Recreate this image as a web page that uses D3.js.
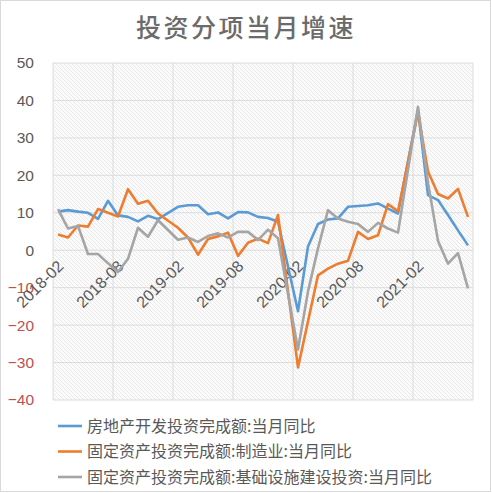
<!DOCTYPE html>
<meta charset="utf-8">
<style>
  body { margin: 0; background: #fff; }
  text { font-family: "Liberation Sans", Arial, "Noto Sans CJK SC", sans-serif; }
</style>
<body>
<script src="https://d3js.org/d3.v7.min.js"></script>
<script>

var months = ["2018-02","2018-03","2018-04","2018-05","2018-06","2018-07","2018-08","2018-09","2018-10","2018-11","2018-12",
              "2019-01","2019-02","2019-03","2019-04","2019-05","2019-06","2019-07","2019-08","2019-09","2019-10","2019-11","2019-12",
              "2020-01","2020-02","2020-03","2020-04","2020-05","2020-06","2020-07","2020-08","2020-09","2020-10","2020-11","2020-12",
              "2021-01","2021-02","2021-03","2021-04","2021-05","2021-06","2021-07"];
var tickMonths = ["2018-02","2018-08","2019-02","2019-08","2020-02","2020-08","2021-02"];

// null = no value that month (jan merged into feb), line just joins across
var realEstate = [10.3, 10.7, 10.3, 10.0, 8.4, 13.2, 9.3, 8.9, 7.7, 9.2, 8.3,
                  null, 11.6, 12.0, 12.0, 9.6, 10.1, 8.5, 10.2, 10.1, 8.9, 8.6, 7.6,
                  null, -16.3, 1.0, 7.0, 8.2, 8.5, 11.6, 11.8, 12.0, 12.5, 11.1, 9.8,
                  null, 37.5, 14.7, 13.4, 9.4, 5.3, 1.3];
var manufacturing = [4.2, 3.4, 6.6, 6.3, 11.0, 10.0, 9.0, 16.3, 12.4, 13.2, 9.8,
                     null, 6.0, 3.4, -1.2, 3.0, 3.7, 4.7, -1.5, 2.0, 3.1, 1.9, 9.4,
                     null, -31.3, -19.0, -6.7, -4.9, -3.6, -2.8, 4.9, 3.0, 4.0, 12.3, 10.4,
                     null, 36.8, 21.0, 15.0, 13.8, 16.4, 8.9];
var infrastructure = [11.0, 5.8, 6.5, -1.0, -1.0, -3.5, -5.8, -2.3, 6.0, 3.6, 8.0,
                      null, 2.8, 3.4, 2.2, 3.8, 4.5, 3.4, 4.9, 4.9, 2.7, 5.5, 3.2,
                      null, -26.5, -11.0, 0.5, 10.7, 8.5, 7.6, 7.0, 4.9, 7.3, 5.8, 4.7,
                      null, 38.3, 18.0, 2.5, -3.6, -0.8, -10.2];
var yTicks = [50, 40, 30, 20, 10, 0, -10, -20, -30, -40];

var seriesNames = ["房地产开发投资完成额:当月同比",
                   "固定资产投资完成额:制造业:当月同比",
                   "固定资产投资完成额:基础设施建设投资:当月同比"];
var seriesColors = ["#5b9bd5", "#ed7d31", "#a5a5a5"];
var seriesValues = [realEstate, manufacturing, infrastructure];

var W = 492, H = 493;
var plot = { left: 53, right: 473, top: 63, bottom: 400 };

var svg = d3.select("body").append("svg")
    .attr("width", W)
    .attr("height", H);

// outer frame
svg.append("rect")
    .attr("x", 0.5).attr("y", 0.5)
    .attr("width", W - 2).attr("height", H - 2)
    .attr("fill", "#fff")
    .attr("stroke", "#d9d9d9");

// diagonal hatch for plot area
var pat = svg.append("defs").append("pattern")
    .attr("id", "hatch")
    .attr("patternUnits", "userSpaceOnUse")
    .attr("width", 4).attr("height", 4);
pat.append("rect").attr("width", 4).attr("height", 4).attr("fill", "#fbfbfb");
pat.append("path")
    .attr("d", "M-1,-1 L5,5 M-1,3 L1,5 M3,-1 L5,1")
    .attr("stroke", "#e4e4e4")
    .attr("stroke-width", 0.8);

svg.append("rect")
    .attr("x", plot.left).attr("y", plot.top)
    .attr("width", plot.right - plot.left)
    .attr("height", plot.bottom - plot.top)
    .attr("fill", "url(#hatch)");

var x = d3.scalePoint().domain(months).range([plot.left, plot.right]).padding(0.5);
var y = d3.scaleLinear().domain([-40, 50]).range([plot.bottom, plot.top]);
var step = x.step();

// horizontal grid
svg.append("g").selectAll("line")
    .data(yTicks)
  .enter().append("line")
    .attr("x1", plot.left).attr("x2", plot.right)
    .attr("y1", function (d) { return y(d); })
    .attr("y2", function (d) { return y(d); })
    .attr("stroke", "#dcdcdc")
    .attr("stroke-width", 1);

// vertical grid at the left edge of every labelled month, plus right edge
var vgrid = tickMonths.map(function (m) { return x(m) - step / 2; });
vgrid.push(x(months[months.length - 1]) + step / 2);
svg.append("g").selectAll("line")
    .data(vgrid)
  .enter().append("line")
    .attr("x1", function (d) { return d; })
    .attr("x2", function (d) { return d; })
    .attr("y1", plot.top).attr("y2", plot.bottom)
    .attr("stroke", "#dcdcdc")
    .attr("stroke-width", 1);

// y axis labels
var yAxis = d3.axisLeft(y).tickValues(yTicks).tickSize(0).tickPadding(0)
    .tickFormat(function (d) { return d < 0 ? "\u2212" + Math.abs(d) : d; });
var gy = svg.append("g")
    .attr("transform", "translate(" + 34 + ",0)")
    .call(yAxis);
gy.select(".domain").remove();
gy.selectAll("text")
    .style("font-size", "15.5px")
    .attr("fill", function (d) { return d < 0 ? "#c0504d" : "#595959"; });

// x axis labels, hanging off the zero line
var xAxis = d3.axisBottom(x).tickValues(tickMonths).tickSize(0).tickPadding(0);
var gx = svg.append("g")
    .attr("transform", "translate(0," + y(0) + ")")
    .call(xAxis);
gx.select(".domain").remove();
gx.selectAll("text")
    .style("font-size", "16px")
    .attr("fill", "#595959")
    .attr("text-anchor", "end")
    .attr("dy", null)
    .attr("y", 0)
    .attr("transform", "translate(6,17) rotate(-45)");

// lines
var line = d3.line()
    .x(function (d) { return x(d.m); })
    .y(function (d) { return y(d.v); });

seriesValues.forEach(function (vals, k) {
    var pts = months.map(function (m, i) { return { m: m, v: vals[i] }; })
        .filter(function (d) { return d.v !== null; });
    svg.append("path")
        .datum(pts)
        .attr("fill", "none")
        .attr("stroke", seriesColors[k])
        .attr("stroke-width", 2.6)
        .attr("stroke-linejoin", "round")
        .attr("d", line);
});

// title
svg.append("text")
    .attr("x", W / 2).attr("y", 37)
    .attr("text-anchor", "middle")
    .style("font-family", "'Noto Sans CJK SC', sans-serif")
    .style("font-size", "25px")
    .style("font-weight", 500)
    .style("letter-spacing", "2.5px")
    .attr("fill", "#6b6b6b")
    .text("投资分项当月增速");

// legend
var leg = svg.append("g").selectAll("g")
    .data(seriesNames)
  .enter().append("g")
    .attr("transform", function (d, i) { return "translate(58," + (426 + i * 25.5) + ")"; });
leg.append("line")
    .attr("x1", 0).attr("x2", 24)
    .attr("stroke", function (d, i) { return seriesColors[i]; })
    .attr("stroke-width", 2.6);
leg.append("text")
    .attr("x", 29).attr("dy", "0.35em")
    .style("font-family", "'Noto Sans CJK SC', sans-serif")
    .style("font-size", "16px")
    .attr("fill", "#595959")
    .text(function (d) { return d; });

</script>
</body>
